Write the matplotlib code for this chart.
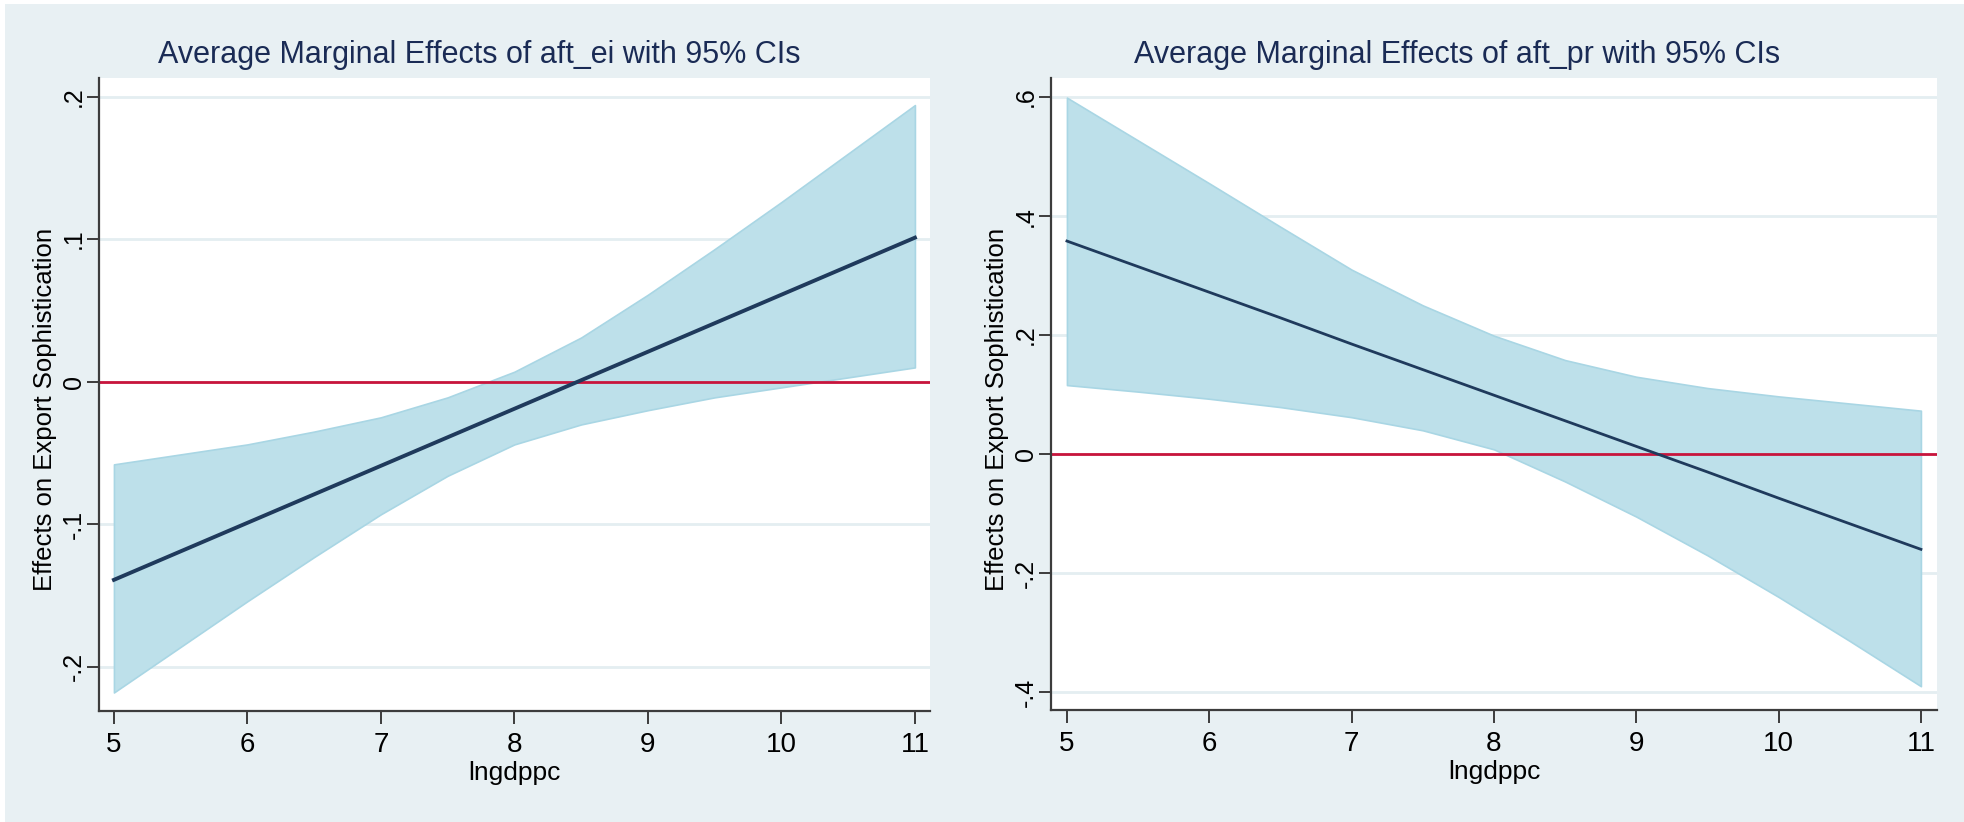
import matplotlib
matplotlib.use("Agg")
import matplotlib.pyplot as plt
from matplotlib.patches import Rectangle

# evaluation points of lngdppc
x_grid = [5, 5.5, 6, 6.5, 7, 7.5, 8, 8.5, 9, 9.5, 10, 10.5, 11]

# aft_ei: average marginal effect and 95% CI
ei_effect = [-0.139, -0.119, -0.099, -0.079, -0.059, -0.039, -0.019,
             0.001, 0.021, 0.041, 0.061, 0.081, 0.101]
ei_upper = [-0.058, -0.051, -0.044, -0.035, -0.025, -0.011, 0.007,
            0.031, 0.061, 0.093, 0.126, 0.160, 0.194]
ei_lower = [-0.218, -0.186, -0.154, -0.123, -0.093, -0.066, -0.044,
            -0.030, -0.020, -0.011, -0.004, 0.003, 0.010]

# aft_pr: average marginal effect and 95% CI
pr_effect = [0.358, 0.315, 0.272, 0.229, 0.185, 0.142, 0.099,
             0.056, 0.013, -0.030, -0.074, -0.117, -0.160]
pr_upper = [0.599, 0.527, 0.455, 0.382, 0.310, 0.250, 0.199,
            0.158, 0.130, 0.111, 0.097, 0.085, 0.073]
pr_lower = [0.116, 0.105, 0.093, 0.079, 0.062, 0.040, 0.008,
            -0.046, -0.105, -0.170, -0.240, -0.314, -0.390]

x_ticks = [5, 6, 7, 8, 9, 10, 11]
ei_yticks = [-0.2, -0.1, 0, 0.1, 0.2]
ei_ylabels = ["-.2", "-.1", "0", ".1", ".2"]
pr_yticks = [-0.4, -0.2, 0, 0.2, 0.4, 0.6]
pr_ylabels = ["-.4", "-.2", "0", ".2", ".4", ".6"]

BG = "#e8f0f3"
CI_FILL = "#bde0ea"
CI_EDGE = "#a9d6e4"
LINE = "#1f3a5c"
RED = "#c8143c"
GRID = "#e4eef1"
SPINE = "#3c3c3c"
TITLE_C = "#1a2b55"
FONT = ["Liberation Sans", "DejaVu Sans"]

W, H = 1965, 822
fig = plt.figure(figsize=(W / 100, H / 100), dpi=100, facecolor=BG)

# thin white frame along top and left edge
fig.patches.append(Rectangle((0, 1 - 4 / H), 1, 4 / H, transform=fig.transFigure,
                             facecolor="white", edgecolor="none", zorder=0))
fig.patches.append(Rectangle((0, 0), 5 / W, 1, transform=fig.transFigure,
                             facecolor="white", edgecolor="none", zorder=0))


def panel(rect, effect, upper, lower, yticks, ylabels, ylim, title, title_x, lw):
    ax = fig.add_axes(rect)
    ax.set_facecolor("white")
    for y in yticks:
        ax.axhline(y, color=GRID, lw=2, zorder=0)
    ax.fill_between(x_grid, lower, upper, facecolor=CI_FILL, edgecolor=CI_EDGE,
                    lw=1.2, zorder=1)
    ax.axhline(0, color=RED, lw=2, zorder=2)
    ax.plot(x_grid, effect, color=LINE, lw=lw, zorder=3)

    ax.set_xlim(4.888, 11.113)
    ax.set_ylim(*ylim)
    ax.set_xticks(x_ticks)
    ax.set_xticklabels([str(v) for v in x_ticks], family=FONT, fontsize=20)
    ax.set_yticks(yticks)
    ax.set_yticklabels(ylabels, family=FONT, fontsize=18, rotation=90, va="center")
    ax.tick_params(direction="out", length=9, width=1.4, color=SPINE, pad=6)
    ax.tick_params(axis="y", pad=0.5)
    for side in ("top", "right"):
        ax.spines[side].set_visible(False)
    for side in ("left", "bottom"):
        ax.spines[side].set_color(SPINE)
        ax.spines[side].set_linewidth(1.6)

    ax.set_xlabel("lngdppc", family=FONT, fontsize=19, labelpad=2)
    ax.set_ylabel("Effects on Export Sophistication", family=FONT, fontsize=18.5)
    ax.yaxis.label.set_va("center")
    ax.yaxis.set_label_coords(-54 / (rect[2] * W), 0.476)
    fig.text(title_x, 1 - 55 / H, title, family=FONT, fontsize=22,
             color=TITLE_C, ha="center", va="center")
    return ax


panel([99 / W, 1 - 711 / H, 831 / W, 633 / H], ei_effect, ei_upper, ei_lower,
      ei_yticks, ei_ylabels, (-0.231, 0.213),
      "Average Marginal Effects of aft_ei with 95% CIs", 479 / W, 2.8)
panel([1051 / W, 1 - 710 / H, 886 / W, 632 / H], pr_effect, pr_upper, pr_lower,
      pr_yticks, pr_ylabels, (-0.430, 0.632),
      "Average Marginal Effects of aft_pr with 95% CIs", 1457 / W, 2.0)

fig.savefig("out.png", dpi=100, facecolor=BG)
